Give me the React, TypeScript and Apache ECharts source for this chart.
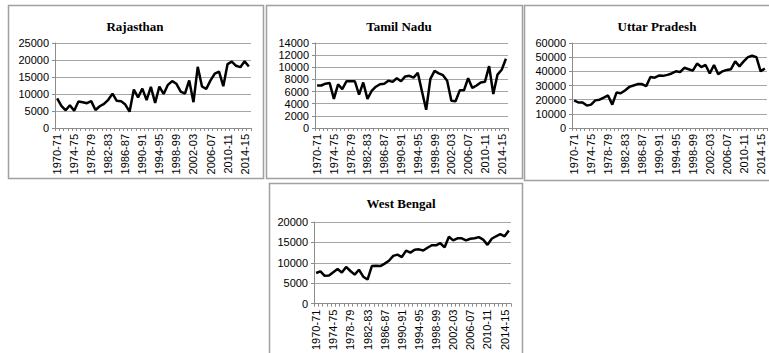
import React, { useEffect, useRef } from "react";
import * as echarts from "echarts";

const years: string[] = [
  "1970-71", "1971-72", "1972-73", "1973-74", "1974-75", "1975-76", "1976-77", "1977-78",
  "1978-79", "1979-80", "1980-81", "1981-82", "1982-83", "1983-84", "1984-85", "1985-86",
  "1986-87", "1987-88", "1988-89", "1989-90", "1990-91", "1991-92", "1992-93", "1993-94",
  "1994-95", "1995-96", "1996-97", "1997-98", "1998-99", "1999-00", "2000-01", "2001-02",
  "2002-03", "2003-04", "2004-05", "2005-06", "2006-07", "2007-08", "2008-09", "2009-10",
  "2010-11", "2011-12", "2012-13", "2013-14", "2014-15", "2015-16",
];

const rajasthan: number[] = [
  8700, 6500, 5200, 6700, 5100, 7800, 7600, 7300, 7900, 5300,
  6400, 7100, 8300, 10100, 8000, 7900, 6900, 4800, 11300, 9000,
  11600, 8200, 12100, 7400, 12200, 10000, 12700, 13800, 13000, 10700,
  10100, 14000, 7600, 18000, 12200, 11500, 14000, 16000, 16600, 12300,
  18800, 19500, 18300, 17900, 19600, 18100,
];

const tamilNadu: number[] = [
  7000, 7000, 7300, 7400, 4800, 7200, 6400, 7700, 7700, 7700,
  5500, 7500, 4800, 6100, 6800, 7200, 7300, 7800, 7600, 8200,
  7700, 8500, 8600, 8300, 9100, 6000, 3000, 8100, 9400, 9000,
  8700, 7800, 4500, 4400, 6200, 6200, 8200, 6600, 7000, 7500,
  7600, 10200, 5600, 8800, 9600, 11400,
];

const uttarPradesh: number[] = [
  19500, 18000, 18000, 15800, 16500, 19500, 20000, 21500, 23000, 16500,
  25000, 24500, 26500, 29000, 30000, 31000, 31000, 29500, 36000, 35500,
  37000, 36800, 37500, 38500, 40000, 39500, 42500, 41500, 40500, 45500,
  43000, 44500, 38500, 44500, 38000, 40000, 41000, 41500, 47000, 43500,
  47000, 50000, 51000, 50000, 40000, 42000,
];

const westBengal: number[] = [
  7500, 7900, 6800, 6900, 7700, 8500, 7600, 9000, 8000, 7100,
  8300, 6600, 5900, 9200, 9300, 9200, 9800, 10500, 11700, 12000,
  11400, 13000, 12500, 13200, 13300, 13000, 13700, 14300, 14300, 14800,
  13800, 16400, 15500, 16000, 16000, 15500, 15900, 16000, 16300, 15700,
  14400, 15900, 16500, 17000, 16500, 17900,
];

const panelTitles: string[] = ["Rajasthan", "Tamil Nadu", "Uttar Pradesh", "West Bengal"];
const yMax: number[] = [25000, 14000, 60000, 20000];
const yStep: number[] = [5000, 2000, 10000, 5000];

export default function App() {
  const ref = useRef<HTMLDivElement>(null);

  useEffect(() => {
    if (!ref.current) return;
    const chart = echarts.init(ref.current, undefined, { renderer: "svg" });

    const seriesData = [rajasthan, tamilNadu, uttarPradesh, westBengal];
    const grids = [
      { left: 55, top: 43, width: 196, height: 85 },
      { left: 315, top: 43, width: 193, height: 85 },
      { left: 572, top: 43, width: 195, height: 85 },
      { left: 314, top: 222, width: 197, height: 85 },
    ];
    const titleCenters = [
      [130, 15],
      [394, 15],
      [652, 15],
      [396, 192],
    ];
    const axisGrey = "#8c8c8c";
    const labelFont = "Liberation Sans, Arial, sans-serif";

    const option: any = {
      animation: false,
      backgroundColor: "#ffffff",
      title: panelTitles.map((t, i) => ({
        text: t,
        left: titleCenters[i][0],
        top: titleCenters[i][1],
        textAlign: "center",
        textStyle: {
          fontFamily: "Liberation Serif, Times New Roman, serif",
          fontWeight: "bold",
          fontSize: 13,
          color: "#000",
        },
      })),
      grid: grids.map((g) => ({ ...g, containLabel: false })),
      xAxis: grids.map((_, i) => ({
        type: "category",
        gridIndex: i,
        data: years,
        boundaryGap: true,
        axisLine: { show: true, lineStyle: { color: axisGrey, width: 1 } },
        axisTick: { show: true, interval: 0, length: 3, lineStyle: { color: axisGrey } },
        axisLabel: {
          interval: 3,
          rotate: 90,
          fontSize: 11,
          fontFamily: labelFont,
          color: "#000",
          margin: 6,
        },
        splitLine: { show: false },
      })),
      yAxis: grids.map((_, i) => ({
        type: "value",
        gridIndex: i,
        min: 0,
        max: yMax[i],
        interval: yStep[i],
        axisLine: { show: true, lineStyle: { color: axisGrey, width: 1 } },
        axisTick: { show: true, length: 3, lineStyle: { color: axisGrey } },
        axisLabel: {
          fontSize: 11,
          fontFamily: labelFont,
          color: "#000",
          margin: 6,
          formatter: (v: number) => String(v),
        },
        splitLine: { show: true, lineStyle: { color: "#a6a6a6", width: 1 } },
      })),
      series: seriesData.map((d, i) => ({
        type: "line",
        xAxisIndex: i,
        yAxisIndex: i,
        data: d,
        showSymbol: false,
        symbol: "none",
        lineStyle: { color: "#000", width: 2.5 },
        itemStyle: { color: "#000" },
      })),
      graphic: [
        { type: "rect", shape: { x: 8.5, y: 5.5, width: 255, height: 173 }, style: { fill: "none", stroke: "#a0a0a0", lineWidth: 1.5 } },
        { type: "rect", shape: { x: 266.5, y: 5.5, width: 256, height: 173 }, style: { fill: "none", stroke: "#a0a0a0", lineWidth: 1.5 } },
        { type: "rect", shape: { x: 524.5, y: 5.5, width: 260, height: 175 }, style: { fill: "none", stroke: "#a0a0a0", lineWidth: 1.5 } },
        { type: "rect", shape: { x: 269.5, y: 183.5, width: 253, height: 180 }, style: { fill: "none", stroke: "#a0a0a0", lineWidth: 1.5 } },
      ],
    };

    chart.setOption(option);
    return () => {
      chart.dispose();
    };
  }, []);

  return (
    <div
      ref={ref}
      style={{ position: "fixed", left: 0, top: 0, width: 769, height: 353 }}
    />
  );
}
